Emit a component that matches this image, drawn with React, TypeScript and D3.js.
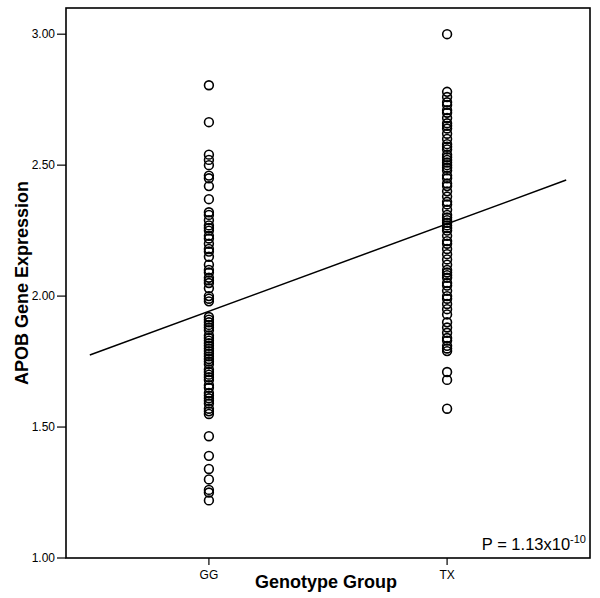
import React from "react";
import * as d3 from "d3";

const categories = ["GG", "TX"];
const ggValues = [2.805, 2.664, 2.54, 2.52, 2.50, 2.46, 2.45, 2.42, 2.37, 2.32, 2.31, 2.29, 2.27, 2.26, 2.25, 2.23, 2.22, 2.20, 2.18, 2.17, 2.15, 2.12, 2.10, 2.09, 2.07, 2.06, 2.05, 2.03, 2.00, 1.99, 1.98, 1.92, 1.91, 1.90, 1.89, 1.88, 1.87, 1.85, 1.84, 1.83, 1.82, 1.81, 1.80, 1.79, 1.78, 1.77, 1.76, 1.75, 1.74, 1.72, 1.71, 1.70, 1.69, 1.68, 1.66, 1.65, 1.63, 1.62, 1.61, 1.60, 1.59, 1.57, 1.56, 1.55, 1.465, 1.39, 1.34, 1.30, 1.26, 1.25, 1.22];
const txValues = [3.00, 2.78, 2.76, 2.74, 2.73, 2.71, 2.70, 2.68, 2.66, 2.65, 2.64, 2.62, 2.60, 2.58, 2.57, 2.56, 2.54, 2.53, 2.52, 2.51, 2.50, 2.49, 2.48, 2.46, 2.45, 2.43, 2.42, 2.40, 2.38, 2.36, 2.35, 2.33, 2.31, 2.30, 2.29, 2.28, 2.27, 2.26, 2.25, 2.23, 2.21, 2.20, 2.18, 2.16, 2.14, 2.12, 2.10, 2.09, 2.08, 2.07, 2.05, 2.04, 2.02, 2.00, 1.99, 1.97, 1.95, 1.93, 1.90, 1.88, 1.86, 1.84, 1.83, 1.81, 1.80, 1.79, 1.71, 1.68, 1.57];
const yTicks = [1.0, 1.5, 2.0, 2.5, 3.0];
const fitX = [0.5, 2.5];
const fitY = [1.775, 2.443];

export default function App() {
  const W = 600, H = 598;
  const left = 66, right = 590, top = 8, bottom = 558;
  const x = d3.scaleLinear().domain([0.4, 2.6]).range([left, right]);
  const y = d3.scaleLinear().domain([1.0, 3.1]).range([bottom, top]);
  const font = "'Liberation Sans', Arial, sans-serif";
  const series = [ggValues, txValues];
  const line = d3.line<number>().x((_, i) => x(fitX[i])).y((d) => y(d));

  return (
    <svg width={W} height={H} style={{ position: "absolute", left: 0, top: 0, background: "#fff" }} fontFamily={font}>
      <rect x={0} y={0} width={W} height={H} fill="#fff" />
      {series.map((vals, ci) =>
        vals.map((v, i) => (
          <circle key={`${ci}-${i}`} cx={x(ci + 1)} cy={y(v)} r={4.4} fill="none" stroke="#000" strokeWidth={1.6} />
        ))
      )}
      <path d={line(fitY) || ""} fill="none" stroke="#000" strokeWidth={1.5} />
      <rect x={left} y={top} width={right - left} height={bottom - top} fill="none" stroke="#000" strokeWidth={1.6} />
      {yTicks.map((t) => (
        <g key={t}>
          <line x1={left - 9} x2={left} y1={y(t)} y2={y(t)} stroke="#000" strokeWidth={1.2} />
          <text x={left - 11} y={y(t)} dy="0.35em" textAnchor="end" fontSize={12} fill="#000">
            {t.toFixed(2)}
          </text>
        </g>
      ))}
      {categories.map((c, i) => (
        <g key={c}>
          <line x1={x(i + 1)} x2={x(i + 1)} y1={bottom} y2={bottom + 7} stroke="#000" strokeWidth={1.2} />
          <text x={x(i + 1)} y={bottom + 21} textAnchor="middle" fontSize={12} fill="#000">
            {c}
          </text>
        </g>
      ))}
      <text x={326} y={588} textAnchor="middle" fontSize={18} fontWeight="bold" fill="#000">
        Genotype Group
      </text>
      <text transform={`translate(28, ${(top + bottom) / 2}) rotate(-90)`} textAnchor="middle" fontSize={18} fontWeight="bold" fill="#000">
        APOB Gene Expression
      </text>
      <text x={586} y={550} textAnchor="end" fontSize={16.5} fill="#000">
        P = 1.13x10<tspan dy={-7} fontSize={11}>-10</tspan>
      </text>
    </svg>
  );
}
